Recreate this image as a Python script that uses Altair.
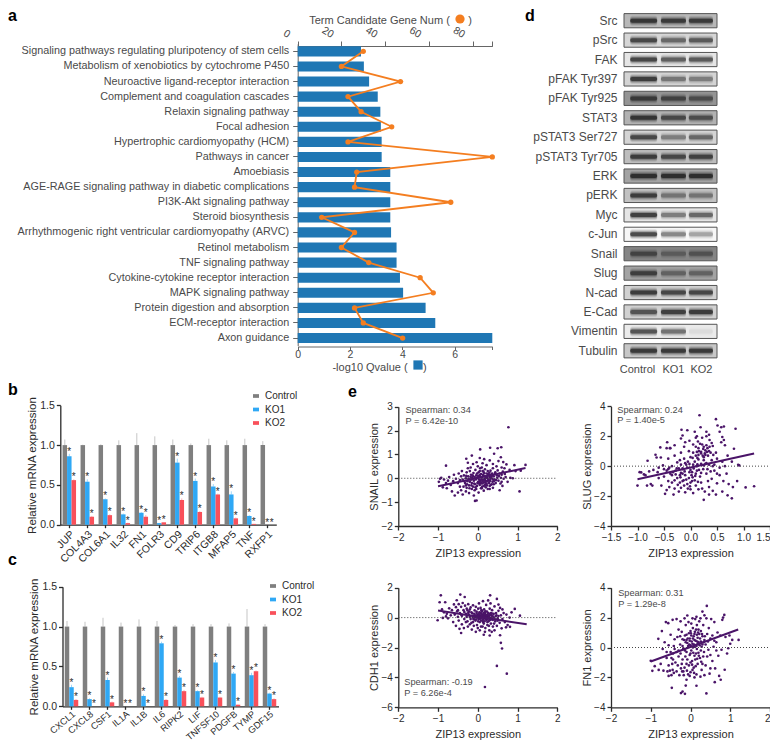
import altair as alt
import pandas as pd

FONT = "Liberation Sans"
W, H = 762, 733
NB = "\u00a0"

# ---------- panel a ----------
terms = ["Signaling pathways regulating pluripotency of stem cells", "Metabolism of xenobiotics by cytochrome P450",
         "Neuroactive ligand-receptor interaction", "Complement and coagulation cascades", "Relaxin signaling pathway",
         "Focal adhesion", "Hypertrophic cardiomyopathy (HCM)", "Pathways in cancer", "Amoebiasis",
         "AGE-RAGE signaling pathway in diabetic complications", "PI3K-Akt signaling pathway", "Steroid biosynthesis",
         "Arrhythmogenic right ventricular cardiomyopathy (ARVC)", "Retinol metabolism", "TNF signaling pathway",
         "Cytokine-cytokine receptor interaction", "MAPK signaling pathway", "Protein digestion and absorption",
         "ECM-receptor interaction", "Axon guidance"]
qvalue = [2.42, 2.53, 2.73, 3.06, 3.16, 3.18, 3.21, 3.21, 3.54, 3.54, 3.54, 3.54, 3.57, 3.78, 3.78, 3.91, 4.03, 4.89, 5.26, 7.44]
gene_num = [30, 20, 47, 23, 29, 43, 23, 89, 27, 26, 70, 11, 26, 20, 32.5, 56, 62, 26, 30, 48]

# ---------- panels b, c ----------
groups = ["Control", "KO1", "KO2"]
genes_b = ["JUP", "COL4A3", "COL6A1", "IL32", "FN1", "FOLR3", "CD9", "TRIP6", "ITGB8", "MFAP5", "TNF", "RXFP1"]
ctrl_err_b = [.07, .005, .01, .06, .15, .11, .07, .02, .08, .06, .08, .05]
ko1_b = [.86, .54, .32, .13, .15, .02, .78, .55, .48, .38, .11, 0]
ko2_b = [.56, .10, .12, .02, .10, .03, .31, .16, .38, .08, .01, 0]
ko1_err_b = [.03, .03, .01, .01, .01, .003, .05, .03, .03, .04, .01, 0]
ko2_err_b = [.01, .01, .01, .005, .02, .003, .02, .01, .01, .01, .002, 0]

genes_c = ["CXCL1", "CXCL8", "CSF1", "IL1A", "IL1B", "IL6", "RIPK2", "LIF", "TNFSF10", "PDGFB", "TYMP", "GDF15"]
ctrl_err_c = [.07, .06, .11, .05, .09, .07, .02, .03, .03, .04, .22, .03]
ko1_c = [.24, .09, .33, 0, .13, .79, .36, .19, .55, .41, .39, .16]
ko2_c = [.08, 0, .05, 0, 0, .08, .19, .11, .11, .02, .44, .09]
ko1_err_c = [.03, .01, .03, 0, .02, .02, .02, .01, .03, .02, .03, .01]
ko2_err_c = [.01, 0, .01, 0, 0, .01, .015, .01, .01, .005, .01, .01]

# ---------- panel d ----------
proteins = ["Src", "pSrc", "FAK", "pFAK Tyr397", "pFAK Tyr925", "STAT3", "pSTAT3 Ser727", "pSTAT3 Tyr705", "ERK", "pERK",
            "Myc", "c-Jun", "Snail", "Slug", "N-cad", "E-Cad", "Vimentin", "Tubulin"]
blot_shade = [.28, .16, .1, .17, .42, .3, .17, .26, .36, .24, .1, .03, .48, .36, .18, .18, .08, .22]
band_control = [.95, .85, .9, .95, .8, .95, .85, .9, .98, .9, .95, .9, .6, .8, .95, .75, .8, .95]
band_ko1 = [.9, .6, .7, .5, .7, .75, .45, .8, .98, .45, .5, .5, .35, .45, .85, .92, .6, .95]
band_ko2 = [.9, .7, .75, .45, .6, .7, .6, .85, .98, .45, .65, .35, .45, .45, .85, .95, .06, .95]
lane_start = [.2, 1.19, 2.09]
lane_end = [1.07, 2.0, 2.87]

# ---------- panel e ----------
snail = [(.77,2.14),(.06,1.21),(.31,1.28),(.5,1.26),(.59,1.3),(-.15,.95),(.41,1.03),(.58,.88),(-.8,.53),(-.29,.82),
(.05,.85),(.16,.8),(.3,.75),(.52,.72),(.64,.68),(.72,.58),(.92,.55),(1.2,.56),(-.25,.65),(-.12,.6),(-.03,.67),(.12,.63),
(.22,.55),(.38,.6),(.47,.5),(.6,.45),(.67,.42),(.8,.35),(.95,.3),(1.08,.32),(-.98,-.15),(-.95,-.02),(-.92,.02),(-.85,-.05),
(-.8,-.2),(-.75,-.1),(-.72,.05),(-.68,-.28),(-.62,-.12),(-.6,.15),(-.55,-.02),(-.5,-.2),(-.48,.2),(-.45,-.08),(-.42,.08),
(-.88,-.38),(-.78,-.42),(-.65,-.55),(-.58,-.72),(-.5,-.6),(-.42,-.5),(-.38,-.68),(-.3,-.55),(-.28,-.4),(-.22,-.62),(-.15,-.45),
(-.1,-.72),(-.07,-.95),(-.03,-.93),(.02,-.6),(.08,-.42),(.15,-.52),(.2,-.38),(.3,-.45),(.38,-.4),(.4,-.25),(.55,-.5),(.62,-.32),
(.75,-.15),(1.05,-.55),(.88,0),(.82,.02),(.7,.05),(.68,.18),(-.38,-.05),(-.35,.12),(-.32,-.2),(-.3,0),(-.28,.25),(-.26,-.12),
(-.24,.08),(-.22,-.3),(-.2,.3),(-.19,-.05),(-.17,.15),(-.15,-.2),(-.14,.02),(-.12,-.35),(-.11,.22),(-.1,-.1),(-.08,.05),(-.07,-.25),
(-.06,.35),(-.05,-.05),(-.04,.12),(-.02,-.32),(0,.02),(.01,-.15),(.02,.25),(.03,-.05),(.04,.1),(.05,-.28),(.06,.42),(.07,-.1),
(.08,.18),(.09,-.2),(.1,.03),(.11,-.35),(.12,.3),(.13,-.06),(.14,.12),(.15,-.18),(.16,.22),(.17,-.02),(.18,.38),(.19,-.25),(.2,.08),
(.21,-.12),(.22,.2),(.23,-.3),(.24,.02),(.25,.3),(.26,-.08),(.27,.14),(.28,-.2),(.29,.24),(.3,.05),(.31,-.1),(.32,.32),(.33,-.27),
(.34,.1),(.35,0),(.36,.2),(.37,-.15),(.38,.42),(.4,.08),(.42,-.05),(.44,.25),(.45,-.2),(.48,.12),(.5,.33),(.52,-.1),(.55,.2),
(.58,.02),(.6,-.15),(.63,.28),(.65,-.02),(-.4,.3),(-.36,-.35),(-.45,-.35),(-.25,.42),(-.18,.45),(-.08,-.5),(0,.5),(.1,.45),(.25,-.45),
(.15,-.32),(.05,.3),(-.16,-.05),(-.02,.2),(.06,-.2),(.12,-.12),(.18,-.08),(.26,.18),(.32,-.02),(.4,-.12),(-.12,.08),(-.3,-.3),(-.2,-.15),
(-.34,-.12),(-.29,.1),(-.27,-.25),(-.23,-.02),(-.21,-.42),(-.18,.05),(-.16,-.3),(-.13,.12),(-.09,-.22),(-.06,-.38),(-.03,.02),(-.01,-.2),(.01,.1),(.03,-.22),
(.05,-.12),(.07,.05),(.09,-.05),(.11,-.22),(.13,.15),(.15,-.08),(.17,.08),(.19,-.15),(.21,.02),(.23,-.12),(.25,.12),(.27,-.05),(.29,-.15),(.31,.15),(.33,.02),
(.35,-.25),(.37,.12),(.39,-.05),(.43,.18),(.46,-.08),(.49,.02),(.53,.1),(.57,-.22),(.6,.15),(.06,.15),(.14,.28),(.22,-.22),(.3,-.32),(.1,-.42),(-.04,-.45),(.18,-.3)]

slug = [(.17,3.4),(.48,3.14),(-.17,2.43),(-.06,2.4),(.08,2.3),(.19,2.6),(.51,2.72),(.58,2.6),(.63,2.65),(.85,2.5),(.3,2.3),(.35,2.1),
(.12,2.0),(.22,1.9),(.3,2.0),(.55,2.3),(.6,1.95),(.63,1.75),(.58,1.6),(.65,1.4),(.82,1.16),(.36,1.75),(.4,1.55),(-.15,2.05),(-.18,1.85),
(-.1,1.6),(-.02,1.7),(.05,1.45),(.1,1.3),(.15,1.2),(.18,1.5),(.25,1.3),(.28,1.05),(.32,1.2),(.35,1.0),(.38,.9),(.42,1.35),(.48,.9),(.2,.85),
(.15,.75),(.12,.95),(.05,.9),(-.03,1.0),(-.12,1.3),(-.3,1.4),(-.38,1.2),(-.44,1.6),(-.57,1.25),(-.45,1.2),(-.39,1.2),(-.66,.76),(-.64,.58),
(-.56,.58),(-.81,.36),(-.42,.5),(-.3,.7),(-.18,.9),(-.12,.5),(0,.6),(.08,.3),(.15,.45),(.25,.6),(.3,.2),(.4,.4),(.5,.5),(.6,.3),(.7,.7),(.78,.3),
(.9,.09),(.92,.05),(.65,0),(.55,-.1),(.45,.1),(.35,.1),(.25,.05),(.2,.15),(.12,0),(.05,.1),(-.02,.15),(-.1,.2),(-.18,.1),(-.25,.25),(-.35,0),
(-.4,-.1),(-.45,-.3),(-.5,-.2),(-.52,.05),(-.6,-.1),(-.7,-.25),(-.78,-.35),(-.88,-.55),(-.96,-.4),(-.93,-.42),(-.85,-.6),(-1.0,-1.3),(-.82,-1.3),
(-.75,-1.2),(-.72,-1.3),(-.6,-.8),(-.55,-1.3),(-.48,-1.85),(-.45,-1.6),(-.42,-1.0),(-.4,-1.4),(-.35,-.6),(-.3,-1.5),(-.32,-1.9),(-.25,-.8),
(-.22,-1.7),(-.2,-1.1),(-.15,-.5),(-.12,-1.3),(-.1,-1.75),(-.08,-.9),(-.05,-1.5),(-.02,-.4),(0,-1.1),(.02,-.6),(.05,-1.8),(.08,-.95),(.1,-1.3),
(.12,-.3),(.15,-1.55),(.18,-.7),(.2,-1.1),(.25,-2.25),(.27,-1.7),(.3,-.5),(.33,-1.0),(.35,-1.4),(.4,-.85),(.42,-1.65),(.45,-.3),(.48,-1.9),
(.5,-1.15),(.55,-.6),(.6,-1.7),(.62,-1.0),(.68,-.5),(.7,-1.95),(.72,-1.2),(.78,-2.15),(.8,-1.4),(.88,-1.0),(1.04,-1.42),(1.2,-1.34),(-.28,-.3),
(-.22,-.15),(-.18,-.45),(-.14,-.2),(-.1,-.6),(-.06,-.1),(-.03,-.8),(0,-.25),(.03,-.4),(.06,-.15),(.1,-.5),(.13,.12),(.16,-.25),(.2,-.45),(.24,-.2),
(.28,.15),(.32,-.2),(.38,-.35),(.42,0),(.5,-.5),(-.38,-.5),(-.3,-.95),(-.42,-.2),(-.5,-.7),(-.62,-.4),(-.35,-1.1),(-.15,-1.0),(0,-1.55),(-.18,-1.45),
(.22,-1.5),(.35,-1.9),(.1,1.9),(.22,1.45),(.28,.75),(.33,.7),(.2,.95),(.16,1.0),(.3,1.4),(.25,.4),(.1,.7),(-.05,.3),(-.2,.4),(.43,.75),
(.14,1.65),(.24,1.15),(.31,.95),(.36,1.3),(.27,.85),(.23,.7),(.13,.55),(.04,.55),(-.08,.1),(-.15,-.15),(-.28,-.55),(-.24,-1.25),(-.19,-.75),(-.13,-.95),(-.06,-1.2),
(-.01,-1.35),(.04,-.75),(.09,-.65),(.14,-1.05),(.03,-1.0),(-.11,-.35),(-.2,-.6),(-.26,-.15),(-.33,-.4)]

cdh1 = [(-.93,1.49),(-.44,1.54),(-.33,1.38),(.31,1.49),(-.82,1.03),(-.96,1.03),(-.53,1.16),(.48,1.25),(.52,.87),(.93,.58),(1.06,.13),(.81,-.62),
(.71,-.65),(.56,-1.18),(.58,-1.69),(.61,-2.07),(.48,-3.23),(.73,-3.75),(.18,-4.64),(-.42,-1.03),(-1.01,-.18),(-.9,.55),(-.85,.35),(-.78,.25),
(-.72,.62),(-.65,.5),(-.6,.88),(-.58,.2),(-.55,.7),(-.52,.42),(-.5,.05),(-.48,.9),(-.45,.3),(-.42,.72),(-.4,.12),(-.38,.98),(-.36,.5),(-.34,-.1),
(-.32,.8),(-.3,.25),(-.28,.6),(-.26,-.25),(-.24,.9),(-.22,.4),(-.2,.05),(-.18,.68),(-.16,-.35),(-.14,.28),(-.12,.82),(-.1,.12),(-.08,.48),(-.06,-.2),
(-.05,.72),(-.03,.3),(-.02,-.5),(0,.18),(.01,.6),(.02,-.1),(.03,.95),(.04,.35),(.05,-.3),(.06,.08),(.07,.65),(.08,-.6),(.09,.25),(.1,.0),(.11,.45),
(.12,-.2),(.13,1.1),(.14,.15),(.15,-.4),(.16,.55),(.17,-.05),(.18,.3),(.19,-.7),(.2,.12),(.21,.85),(.22,-.15),(.23,.4),(.24,-.5),(.25,.05),(.26,1.15),
(.27,-.25),(.28,.25),(.29,-.85),(.3,.6),(.31,-.08),(.32,.95),(.33,-.4),(.34,.18),(.35,-.12),(.36,.5),(.38,-.6),(.4,.02),(.42,.75),(.44,-.25),(.46,.3),
(.48,-.55),(.5,-.05),(.52,.45),(.55,-.35),(.58,.15),(.6,-.72),(.62,-.1),(.65,.3),(.68,-.3),(.72,.2),(.75,-.5),(.8,.0),(.85,.35),(-.88,-.02),(-.8,.08),
(-.75,-.05),(-.68,.15),(-.62,-.3),(-.55,-.55),(-.48,-.2),(-.46,-.75),(-.4,-.45),(-.35,-.7),(-.3,-.3),(-.25,-.6),(-.2,-.45),(-.15,-.8),(-.1,-.55),(-.05,-.95),
(0,-.7),(.05,-.85),(.12,-.6),(.18,-.95),(.28,-.55),(.35,-.95),(.42,-.85),(.3,-1.2),(.15,-1.15),(-.12,-.3),(-.08,.1),(-.02,.05),(.02,.22),(.06,-.08),(.09,.5),
(.13,-.3),(.16,.02),(.19,.42),(.23,-.05),(.27,.08),(.3,-.18),(.33,.3),(.37,.12),(.41,-.4),(.45,.1),(-.18,-.1),(-.22,.18),(-.28,.05),(-.34,.38),(-.42,.2),(-.5,.5),
(.05,.12),(.1,.22),(.15,.32),(.2,-.12),(.25,-.1),(.0,.0),(-.05,.15),(-.1,-.12),(.08,.0),(.12,.1),(.18,.08),(.22,.02),(.28,-.02),(.34,.02),(.52,.1),(.56,.65),(.62,.55),
(-.16,.35),(-.13,.05),(-.11,-.08),(-.09,.25),(-.07,.02),(-.04,-.12),(-.03,.4),(-.01,.12),(.01,-.25),(.03,.2),(.04,-.05),(.07,.3),(.08,-.2),(.1,.4),(.11,.15),(.13,-.12),
(.14,.05),(.16,.25),(.17,-.25),(.19,.2),(.21,-.02),(.23,.18),(.24,-.3),(.26,.3),(.28,.12),(.3,-.05),(.32,.2),(.35,.28),(.38,-.15),(.4,.25),(.43,-.12),(.47,.15),(.5,-.2),(-.24,.3),(-.2,.55),(-.26,.48)]

fn1 = [(.41,2.78),(.3,2.4),(.85,2.18),(-.08,2.14),(-.56,1.63),(-.81,.58),(1.21,.51),(1.05,.51),(-1,-.89),(-.96,-1.56),(.4,-3.07),(-.24,-3.05),(-.1,-2.16),
(.15,-2.56),(.61,-2.32),(.76,-2.16),(.86,-1.49),(-.12,-2.55),(-.2,-2.95),(-.14,-3.1),(-.47,-2.7),(-.9,-1.25),(-.8,-1.5),(-.75,-1.1),(-.68,-1.55),(-.6,-.7),
(-.58,-1.6),(-.55,-1.9),(-.52,-1.55),(-.5,-.3),(-.48,-1.85),(-.46,-1.1),(-.44,-.4),(-.42,-1.7),(-.4,-.1),(-.38,-1.0),(-.35,-1.6),(-.33,.7),(-.3,-.6),(-.28,-1.85),
(-.26,.2),(-.24,-1.4),(-.22,1.05),(-.2,-.8),(-.18,-1.6),(-.16,.5),(-.14,-.2),(-.12,1.5),(-.1,-1.1),(-.08,.3),(-.06,-1.8),(-.04,.95),(-.02,-.5),(0,.15),(.02,1.6),
(.04,-.9),(.06,.6),(.08,-1.35),(.1,.05),(.12,1.9),(.14,-.4),(.16,.85),(.18,-1.1),(.2,.35),(.22,1.75),(.24,-.7),(.26,1.1),(.28,-1.5),(.3,.2),(.32,1.5),(.34,-.3),
(.36,.75),(.38,-1.2),(.4,1.95),(.42,-.6),(.44,.4),(.46,1.3),(.48,-1.75),(.5,.6),(.52,1.9),(.55,-.9),(.58,.05),(.6,1.7),(.62,-1.4),(.65,.35),(.68,1.0),(.7,-.55),
(.72,-1.9),(.75,.8),(.78,-.15),(.8,1.85),(.82,2.0),(.88,.7),(.92,-.4),(.98,.8),(-.72,1.1),(-.65,.35),(-.62,1.7),(-.55,.15),(-.5,.85),(-.45,1.85),(-.4,.55),(-.35,1.9),
(-.3,1.2),(-.25,1.75),(-.2,.1),(-.15,1.95),(-.1,.85),(-.05,1.7),(0,1.1),(.05,1.95),(.1,.9),(.15,2.05),(.2,1.2),(.25,1.95),(.3,.75),(.35,2.15),(.1,-2.0),(-.02,-1.9),
(.25,-1.95),(.35,-1.85),(.5,-1.4),(.15,-1.8),(.3,-1.1),(-.35,-.3),(-.3,-.2),(-.25,-.4),(-.18,-.05),(-.1,-.3),(-.06,.1),(-.02,.45),(.02,-.2),(.05,.25),(.08,.75),(.1,-.55),
(.13,.45),(.16,-.1),(.18,.65),(.2,-.35),(.23,.15),(.26,.4),(.28,.05),(.32,-.6),(.35,.5),(.38,.2),(.42,.9),(.45,-.15),(.5,-.5),(.55,.8),(.6,.45),(.65,-.2),(-.6,-.3),(-.7,-.1),
(-.42,.1),(-.48,-.7),(-.55,-1.2),(-.45,-1.5),(-.32,-1.2),(-.22,-1.1),(-.15,-1.35),(-.08,-.8),(0,-1.0),(.05,-1.5),(.12,-.8),(-.02,.6),(.02,.8),(.06,1.3),(.1,.5),(.14,1.2),(.18,.25),
(.22,.9),(.06,.0),(-.1,.5),(-.14,.8),(.0,-.4),(.16,1.5),(-.26,.75),(-.2,.55),(.26,-.2),(-.44,-.8),(.95,-.05),(1.0,.25),
(-.12,.35),(-.07,.6),(-.03,.2),(.01,.95),(.03,.4),(.07,-.35),(.09,.2),(.11,1.05),(.15,.1),(.17,.4),(.19,1.0),(.21,-.55),(.24,.6),(.27,-.95),(.29,.9),(.33,.35),(-.21,-1.6),(-.17,-1.85),
(-.13,-.6),(-.09,-1.55),(-.04,-1.2),(.0,-1.65),(.04,-1.15),(.09,-1.7),(.13,-1.25),(.17,-.75)]

spearman = {"SNAIL": ["Spearman: 0.34", "P = 6.42e-10"], "SLUG": ["Spearman: 0.24", "P = 1.40e-5"],
            "CDH1": ["Spearman: -0.19", "P = 6.26e-4"], "FN1": ["Spearman: 0.31", "P = 1.29e-8"]}
letters = ["a", "b", "c", "d", "e"]

INK = "#2b2b2b"
GREY_TXT = "#4a4a4a"
BAR_COLORS = ["#7f7f7f", "#2fa8f5", "#f9505a"]
PURPLE = "#4a1468"


def bx(a, b):  # page pixels -> chart pixels
    return [a - 8, b - 8]


def qscale(domain, rng):
    return alt.Scale(domain=domain, range=rng, nice=False, zero=False)


def axis_common(**k):
    d = dict(grid=False, labelFont=FONT, titleFont=FONT, labelColor=INK, titleColor=INK, domainColor=INK,
             tickColor=INK, domainWidth=1.3, tickWidth=1.3, tickSize=4, labelFontSize=10, titleFontSize=11,
             titleFontWeight="normal", labelOverlap=False, labelFlush=False, labelLimit=500)
    d.update(k)
    return alt.Axis(**d)


layers = []

# ---- panel a ----
df_a = pd.DataFrame({"term": terms, "q": qvalue, "n": gene_num, "i": range(20),
                     "sq": "q", "sn": "n"})
ya = alt.Scale(domain=terms, range=bx(43.8, 345.6), paddingInner=.33, paddingOuter=.165)
xa_q = qscale([0, 7.44], bx(297.7, 492.3))
xa_n = qscale([0, 89], bx(297.7, 492.3))
grey_ax = dict(labelColor=GREY_TXT, titleColor=GREY_TXT, domainColor="#666666", tickColor="#666666", domainWidth=1,
               tickWidth=1)
layers.append(alt.Chart(df_a).mark_bar(color="#1f77b4").encode(
    x=alt.X("q:Q", scale=xa_q, axis=axis_common(orient="bottom", offset=346.5 - 8 - H, values=[0, 2, 4, 6, 7.44],
                                                labelExpr="datum.value>7 ? '' : datum.label", format="d", labelFontSize=10.5,
                                                tickSize=3, labelPadding=0,
                                                title="-log10 Qvalue (" + NB * 5 + ")", titleX=371, titlePadding=1,
                                                titleFontSize=11, **grey_ax)),
    y=alt.Y("term:N", scale=ya, sort=terms,
            axis=axis_common(orient="left", offset=-(297.7 - 8), title=None, labelPadding=4, labelFontSize=10.8, tickSize=5, **grey_ax)),
    fill=alt.Fill("sq:N", scale=alt.Scale(domain=["q"], range=["#1f77b4"]),
                  legend=alt.Legend(orient="none", legendX=405, legendY=352, title=None, symbolType="square",
                                    symbolSize=85, labelExpr="''", labelFontSize=1, symbolStrokeWidth=0, padding=0)),
))
layers.append(alt.Chart(df_a).mark_line(color="#f47e20", strokeWidth=1.8).encode(
    x=alt.X("n:Q", scale=xa_n, axis=axis_common(orient="top", offset=-(46 - 8), values=[0, 20, 40, 60, 80, 89],
                                               labelExpr="datum.value>85 ? '' : datum.label", labelAngle=30, labelOffset=-9,
                                               labelAlign="right", labelBaseline="middle", labelPadding=6, labelFontSize=10.5,
                                               tickSize=5, title="Term Candidate Gene Num (" + NB * 6 + ")", titleX=382,
                                               titlePadding=-1, titleFontSize=11, **grey_ax)),
    y=alt.Y("term:N", scale=ya, sort=terms, axis=None), order="i:Q"))
layers.append(alt.Chart(df_a).mark_point(filled=True, opacity=1, size=28).encode(
    x=alt.X("n:Q", scale=xa_n, axis=None),
    y=alt.Y("term:N", scale=ya, sort=terms, axis=None),
    color=alt.Color("sn:N", scale=alt.Scale(domain=["n"], range=["#f47e20"]),
                    legend=alt.Legend(orient="none", legendX=447, legendY=6, title=None, symbolType="circle",
                                      symbolSize=85, labelExpr="''", labelFontSize=1, symbolStrokeWidth=0, padding=0))))


# ---- panels b, c ----
def bar_panel(genes, err_c, ko1, ko2, e1, e2, x0, x1, ytop, ybot, legx, legy, angle, lab_size, lab_pad):
    rows = []
    for k, g in enumerate(genes):
        rows.append(dict(gene=g, group="Control", v=1.0, top=1.0 + err_c[k]))
        rows.append(dict(gene=g, group="KO1", v=ko1[k], top=ko1[k] + e1[k]))
        rows.append(dict(gene=g, group="KO2", v=ko2[k], top=ko2[k] + e2[k]))
    df = pd.DataFrame(rows)
    xs = alt.Scale(domain=genes, range=bx(x0, x1), paddingInner=.25, paddingOuter=.125)
    ys = qscale([0, 1.5], bx(ybot, ytop))
    off = alt.XOffset("group:N", scale=alt.Scale(domain=groups))
    cs = alt.Scale(domain=groups, range=BAR_COLORS)
    out = []
    out.append(alt.Chart(df).mark_bar().encode(
        x=alt.X("gene:N", scale=xs, sort=genes,
                axis=axis_common(orient="bottom", offset=ybot - 8 - H, title=None, labelAngle=angle, labelAlign="right",
                                 labelBaseline="top", labelPadding=lab_pad, labelFontSize=lab_size, tickSize=3)),
        xOffset=off,
        y=alt.Y("v:Q", scale=ys, axis=axis_common(orient="left", offset=-(x0 - 8), values=[0, .5, 1, 1.5], format=".1f",
                                                  title="Relative mRNA expression", titleFontSize=11.5, labelFontSize=10.5,
                                                  titlePadding=2)),
        color=alt.Color("group:N", scale=cs,
                        legend=alt.Legend(orient="none", legendX=legx, legendY=legy, title=None,
                                          symbolType="M-1,-0.62H1V0.62H-1Z", symbolSize=36, symbolStrokeWidth=0,
                                          labelFont=FONT, labelFontSize=10, labelColor=INK, rowPadding=3.5, labelOffset=4,
                                          padding=0))))
    out.append(alt.Chart(df).mark_rule(opacity=.45, strokeWidth=1).encode(
        x=alt.X("gene:N", scale=xs, sort=genes, axis=None), xOffset=off,
        y=alt.Y("v:Q", scale=ys, axis=None), y2="top:Q",
        color=alt.Color("group:N", scale=cs, legend=None)))
    out.append(alt.Chart(df[df.group != "Control"]).mark_text(text="*", font=FONT, fontSize=10, color=INK,
                                                               baseline="alphabetic", dy=1).encode(
        x=alt.X("gene:N", scale=xs, sort=genes, axis=None), xOffset=off,
        y=alt.Y("top:Q", scale=ys, axis=None)))
    return out


layers += bar_panel(genes_b, ctrl_err_b, ko1_b, ko2_b, ko1_err_b, ko2_err_b, 60.3, 276.3, 405.3, 524.7, 243, 383, -45, 10.5, 1)
layers += bar_panel(genes_c, ctrl_err_c, ko1_c, ko2_c, ko1_err_c, ko2_err_c, 62.5, 278.5, 586.7, 706.3, 260, 573, -40, 9.2, 0)

# ---- panel d ----
ydb = alt.Scale(domain=proteins, range=bx(11, 360.5), paddingInner=.27, paddingOuter=.135)
xdb = qscale([0, 3], bx(624, 717))
df_blot = pd.DataFrame({"protein": proteins, "shade": blot_shade, "x0": [0] * 18, "x1": [3] * 18})
rows = []
for p, c, k1, k2 in zip(proteins, band_control, band_ko1, band_ko2):
    for lane, v in enumerate([c, k1, k2]):
        rows.append(dict(protein=p, a=lane_start[lane], b=lane_end[lane], v=v))
df_band = pd.DataFrame(rows)
Y_BLOT = alt.Y("protein:N", scale=ydb, sort=proteins, axis=None)
layers.append(alt.Chart(df_blot).mark_rect(color="black").encode(
    x=alt.X("x0:Q", scale=xdb, axis=axis_common(orient="bottom", offset=361 - 8 - H, values=[.42, 1.58, 2.48], title=None,
                                                labelExpr="datum.value<1 ? 'Control' : datum.value<2 ? 'KO1' : 'KO2'",
                                                ticks=False, domain=False, labelFontSize=11, labelColor=GREY_TXT,
                                                labelPadding=2)),
    x2="x1:Q",
    y=alt.Y("protein:N", scale=ydb, sort=proteins,
            axis=axis_common(orient="left", offset=-(624 - 8), title=None, ticks=False, domain=False, labelFontSize=12,
                             labelColor=GREY_TXT, labelPadding=7)),
    opacity=alt.Opacity("shade:Q", scale=None)))
for h, f in [(10, .1), (8, .15), (6, .25), (4, .6)]:
    layers.append(alt.Chart(df_band).transform_calculate(o=f"datum.v*{f}").mark_rect(
        color="#0a0a0a", height=h, cornerRadius=2).encode(
        x=alt.X("a:Q", scale=xdb, axis=None), x2="b:Q", y=Y_BLOT, opacity=alt.Opacity("o:Q", scale=None)))
layers.append(alt.Chart(df_blot).mark_rect(fill=None, stroke="#555555", strokeWidth=1).encode(
    x=alt.X("x0:Q", scale=xdb, axis=None), x2="x1:Q", y=Y_BLOT))


# ---- panel e ----
def scatter(points, name, xdom, xvals, xfmt, xr, ydom, yvals, yr, line, txt_pos):
    df = pd.DataFrame(points, columns=["x", "y"])
    xs = qscale(xdom, bx(*xr))
    ys = qscale(ydom, bx(*yr))
    last_label = {"condition": {"test": f"datum.value >= {xdom[1]} && {xr[1]} > 765", "value": "right"}, "value": "center"}
    out = [alt.Chart(df).mark_circle(color=PURPLE, opacity=1, size=7).encode(
        x=alt.X("x:Q", scale=xs, axis=axis_common(orient="bottom", offset=yr[0] - 8 - H, values=xvals, format=xfmt,
                                                  labelAlign=last_label,
                                                  title="ZIP13 expression", titlePadding=5, labelPadding=2)),
        y=alt.Y("y:Q", scale=ys, axis=axis_common(orient="left", offset=-(xr[0] - 8), values=yvals, format="d",
                                                  title=f"{name} expression", titlePadding=1, labelPadding=2)))]
    dz = pd.DataFrame({"x": xdom, "y": [0, 0]})
    out.append(alt.Chart(dz).mark_line(color="#444444", strokeWidth=1, strokeDash=[1, 2]).encode(
        x=alt.X("x:Q", scale=xs, axis=None), y=alt.Y("y:Q", scale=ys, axis=None)))
    dl = pd.DataFrame({"x": line[0], "y": line[1]})
    out.append(alt.Chart(dl).mark_line(color=PURPLE, strokeWidth=2).encode(
        x=alt.X("x:Q", scale=xs, axis=None), y=alt.Y("y:Q", scale=ys, axis=None)))
    dt = pd.DataFrame({"x": [txt_pos[0]] * 2, "y": txt_pos[1], "t": spearman[name]})
    out.append(alt.Chart(dt).mark_text(align="left", baseline="middle", font=FONT, fontSize=9.2, color=GREY_TXT).encode(
        x=alt.X("x:Q", scale=xs, axis=None), y=alt.Y("y:Q", scale=ys, axis=None), text="t:N"))
    return out


layers += scatter(snail, "SNAIL", [-2, 2], [-2, -1, 0, 1, 2], "d", (398.3, 557.3), [-2, 3], [-2, -1, 0, 1, 2, 3], (526, 406.7),
                  ([-1, 1.2], [-.33, .43]), (-1.82, [2.85, 2.4]))
layers += scatter(slug, "SLUG", [-1.5, 1.5], [-1.5, -1, -.5, 0, .5, 1, 1.5], ".1f", (611, 770), [-4, 4], [-4, -2, 0, 2, 4], (526, 406.3),
                  ([-1, 1.2], [-.87, .85]), (-1.38, [3.77, 3.07]))
layers += scatter(cdh1, "CDH1", [-2, 2], [-2, -1, 0, 1, 2], "d", (398.3, 557.3), [-6, 2], [-6, -4, -2, 0, 2], (707.3, 587.7),
                  ([-1, 1.23], [.47, -.45]), (-1.85, [-4.3, -5.03]))
layers += scatter(fn1, "FN1", [-2, 2], [-2, -1, 0, 1, 2], "d", (611, 770), [-4, 4], [-4, -2, 0, 2, 4], (707.3, 587.7),
                  ([-1, 1.2], [-.94, 1.2]), (-1.82, [3.65, 2.93]))

# ---- panel letters ----
letter_spots = {"a": (0, 13), "b": (0, 387), "c": (0, 557), "d": (517, 13), "e": (340, 389)}
for ch in letters:
    px, py = letter_spots[ch]
    layers.append(alt.Chart(pd.DataFrame({"t": [ch]})).mark_text(align="left", baseline="alphabetic", font=FONT, fontSize=16,
                                                                fontWeight="bold", color="black").encode(
        x=alt.value(px), y=alt.value(py), text="t:N"))

chart = alt.layer(*layers).resolve_scale(
    x="independent", y="independent", xOffset="independent", color="independent", fill="independent"
).resolve_axis(x="independent", y="independent").resolve_legend(color="independent", fill="independent").properties(
    width=W, height=H, padding=0, autosize=alt.AutoSizeParams(type="none")
).configure_view(stroke=None)

chart.save("out.html", embed_options={"renderer": "svg", "actions": False})
